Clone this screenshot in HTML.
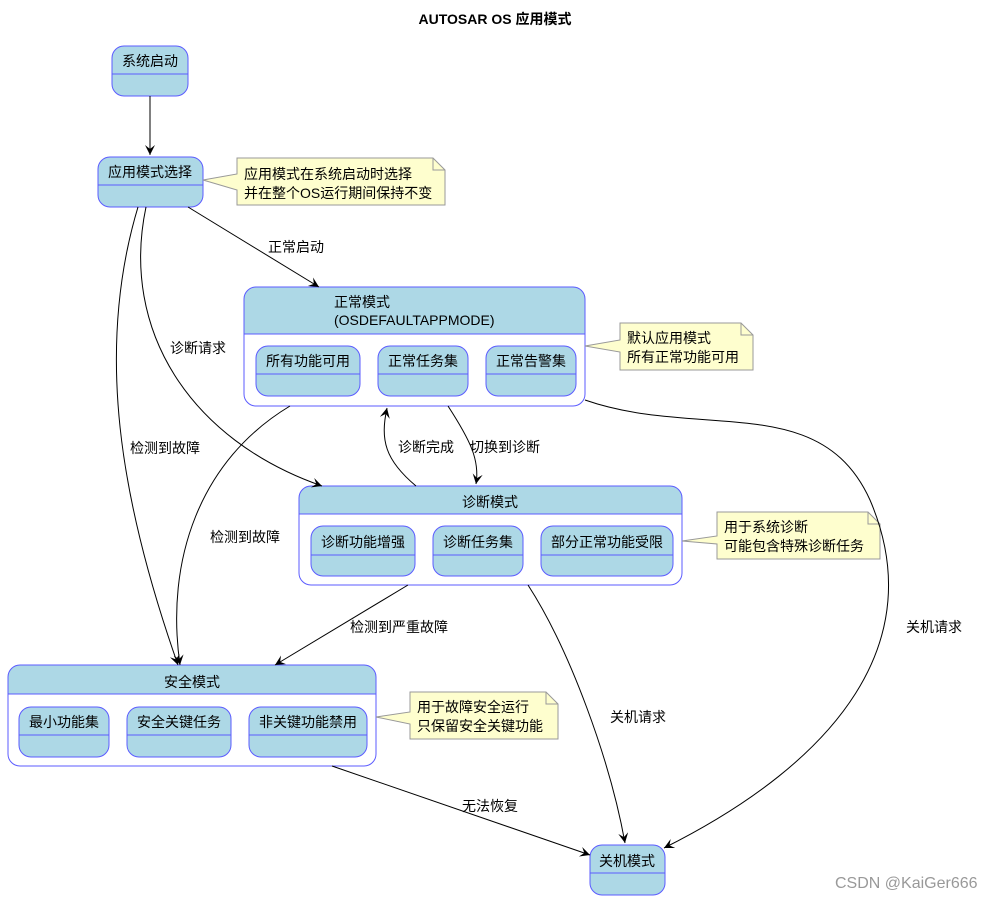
<!DOCTYPE html>
<html><head><meta charset="utf-8"><style>
body{margin:0;background:#fff;}
svg{display:block;font-family:"Liberation Sans","Noto Sans CJK SC",sans-serif;}
</style></head><body>
<svg width="1003" height="901" viewBox="0 0 1003 901" xmlns="http://www.w3.org/2000/svg">
<defs>
<marker id="a" markerWidth="12" markerHeight="12" refX="10" refY="5" orient="auto" markerUnits="userSpaceOnUse">
<path d="M0,0 L10,5 L0,10 L4,5 Z" fill="#000"/></marker>
</defs>
<text x="495" y="24" font-size="14" font-weight="bold" text-anchor="middle">AUTOSAR OS 应用模式</text>

<g stroke="#5b5bff" stroke-width="1" fill="#add8e6">
<rect x="112" y="46" width="76" height="50" rx="12"/><line x1="112" y1="74" x2="188" y2="74"/>
<rect x="98" y="157" width="105" height="50" rx="12"/><line x1="98" y1="185" x2="203" y2="185"/>
<rect x="590" y="845" width="75" height="50" rx="12"/><line x1="590" y1="873" x2="665" y2="873"/>
<path d="M256,287 H573 A12,12 0 0 1 585,299 V334 H244 V299 A12,12 0 0 1 256,287 Z"/>
<path d="M244,334 H585 V394 A12,12 0 0 1 573,406 H256 A12,12 0 0 1 244,394 Z" fill="#fff"/>
<rect x="256" y="346" width="104" height="50" rx="12"/><line x1="256" y1="374" x2="360" y2="374"/>
<rect x="378" y="346" width="90" height="50" rx="12"/><line x1="378" y1="374" x2="468" y2="374"/>
<rect x="486" y="346" width="90" height="50" rx="12"/><line x1="486" y1="374" x2="576" y2="374"/>
<path d="M311,486 H670 A12,12 0 0 1 682,498 V514 H299 V498 A12,12 0 0 1 311,486 Z"/>
<path d="M299,514 H682 V573 A12,12 0 0 1 670,585 H311 A12,12 0 0 1 299,573 Z" fill="#fff"/>
<rect x="311" y="526" width="104" height="50" rx="12"/><line x1="311" y1="555" x2="415" y2="555"/>
<rect x="433" y="526" width="90" height="50" rx="12"/><line x1="433" y1="555" x2="523" y2="555"/>
<rect x="541" y="526" width="132" height="50" rx="12"/><line x1="541" y1="555" x2="673" y2="555"/>
<path d="M20,665 H364 A12,12 0 0 1 376,677 V694 H8 V677 A12,12 0 0 1 20,665 Z"/>
<path d="M8,694 H376 V754 A12,12 0 0 1 364,766 H20 A12,12 0 0 1 8,754 Z" fill="#fff"/>
<rect x="19" y="707" width="90" height="50" rx="12"/><line x1="19" y1="735" x2="109" y2="735"/>
<rect x="127" y="707" width="104" height="50" rx="12"/><line x1="127" y1="735" x2="231" y2="735"/>
<rect x="249" y="707" width="118" height="50" rx="12"/><line x1="249" y1="735" x2="367" y2="735"/>
</g>

<g font-size="14" fill="#000" text-anchor="middle">
<text x="150" y="66">系统启动</text>
<text x="150" y="177">应用模式选择</text>
<text x="627" y="866">关机模式</text>
<text x="308" y="366">所有功能可用</text>
<text x="423" y="366">正常任务集</text>
<text x="531" y="366">正常告警集</text>
<text x="490" y="507">诊断模式</text>
<text x="363" y="547">诊断功能增强</text>
<text x="478" y="547">诊断任务集</text>
<text x="607" y="547">部分正常功能受限</text>
<text x="192" y="687">安全模式</text>
<text x="64" y="727">最小功能集</text>
<text x="179" y="727">安全关键任务</text>
<text x="308" y="727">非关键功能禁用</text>
</g>
<g font-size="14"><text x="334" y="307">正常模式</text><text x="334" y="325">(OSDEFAULTAPPMODE)</text></g>

<g stroke="#999" fill="#fefece" stroke-width="1">
<path d="M237,158 H433 L445,170 V205 H237 V190 L203,180 L237,174 Z"/>
<path d="M620,323 H741 L753,335 V370 H620 V352 L585,346 L620,340 Z"/>
<path d="M717,512 H868 L880,524 V559 H717 V544 L682,541 L717,536 Z"/>
<path d="M410,692 H546 L558,704 V739 H410 V724 L376,717 L410,712 Z"/>
</g>
<g stroke="#999" fill="none"><path d="M433,158 V170 H445"/><path d="M741,323 V335 H753"/><path d="M868,512 V524 H880"/><path d="M546,692 V704 H558"/></g>
<g font-size="14">
<text x="244" y="179">应用模式在系统启动时选择</text><text x="244" y="198">并在整个OS运行期间保持不变</text>
<text x="627" y="343">默认应用模式</text><text x="627" y="362">所有正常功能可用</text>
<text x="724" y="532">用于系统诊断</text><text x="724" y="551">可能包含特殊诊断任务</text>
<text x="417" y="712">用于故障安全运行</text><text x="417" y="731">只保留安全关键功能</text>
</g>

<g stroke="#000" fill="none" stroke-width="1" marker-end="url(#a)">
<path d="M150,96 V155"/>
<path d="M188,207 L319,287"/>
<path d="M138,207 C95,350 120,500 178,665"/>
<path d="M146,207 C120,330 190,440 322,486"/>
<path d="M290,406 C200,460 165,560 180,665"/>
<path d="M416,486 C385,460 380,440 387,408"/>
<path d="M448,406 C470,440 480,460 476,484"/>
<path d="M408,585 L275,665"/>
<path d="M528,585 C570,650 610,760 625,843"/>
<path d="M585,400 C700,440 820,390 870,500 C930,640 840,760 664,848"/>
<path d="M332,766 L590,855"/>
</g>
<g font-size="14">
<text x="268" y="252">正常启动</text>
<text x="170" y="353">诊断请求</text>
<text x="130" y="453">检测到故障</text>
<text x="210" y="542">检测到故障</text>
<text x="398" y="452">诊断完成</text>
<text x="470" y="452">切换到诊断</text>
<text x="350" y="632">检测到严重故障</text>
<text x="906" y="632">关机请求</text>
<text x="610" y="722">关机请求</text>
<text x="462" y="811">无法恢复</text>
</g>
<text x="835" y="888" font-size="16" fill="#999">CSDN @KaiGer666</text>
</svg>
</body></html>
